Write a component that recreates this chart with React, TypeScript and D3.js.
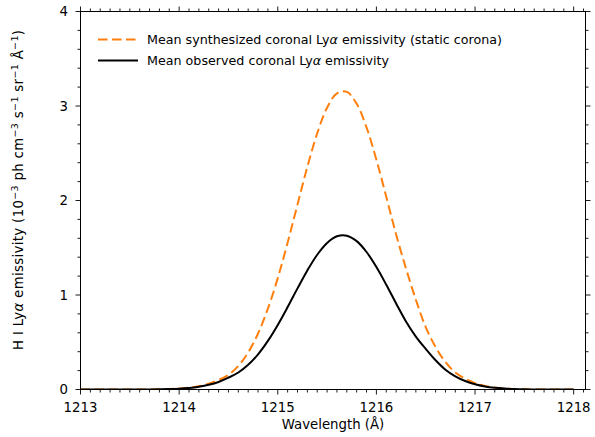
import React from "react";
import * as d3 from "d3";

const wavelengths = [
  1213.0, 1213.1, 1213.2, 1213.3, 1213.4, 1213.5, 1213.6, 1213.7, 1213.8, 1213.9,
  1214.0, 1214.1, 1214.2, 1214.3, 1214.4, 1214.5, 1214.6, 1214.7, 1214.8, 1214.9,
  1215.0, 1215.1, 1215.2, 1215.3, 1215.4, 1215.5, 1215.6, 1215.7, 1215.8, 1215.9,
  1216.0, 1216.1, 1216.2, 1216.3, 1216.4, 1216.5, 1216.6, 1216.7, 1216.8, 1216.9,
  1217.0, 1217.1, 1217.2, 1217.3, 1217.4, 1217.5, 1217.6, 1217.7, 1217.8, 1217.9,
  1218.0,
];

const synthesized = [
  0, 0, 0, 0, 0, 0, 0.0005, 0.001, 0.002, 0.005,
  0.01, 0.02, 0.035, 0.06, 0.1, 0.155, 0.25, 0.392, 0.593, 0.855,
  1.179, 1.554, 1.957, 2.357, 2.711, 2.982, 3.134, 3.149, 3.023, 2.774,
  2.432, 2.039, 1.64, 1.28, 0.95, 0.66, 0.45, 0.29, 0.18, 0.115,
  0.068, 0.038, 0.02, 0.01, 0.005, 0.002, 0.001, 0.0005, 0, 0,
  0,
];

const observed = [
  0, 0, 0, 0, 0, 0, 0, 0.001, 0.002, 0.004,
  0.009, 0.017, 0.03, 0.05, 0.08, 0.125, 0.18, 0.262, 0.372, 0.514,
  0.683, 0.872, 1.07, 1.26, 1.426, 1.551, 1.621, 1.628, 1.57, 1.455,
  1.296, 1.109, 0.911, 0.72, 0.56, 0.43, 0.31, 0.21, 0.14, 0.09,
  0.055, 0.032, 0.018, 0.01, 0.005, 0.002, 0.001, 0, 0, 0,
  0,
];

const xTicks = [1213, 1214, 1215, 1216, 1217, 1218];
const yTicks = [0, 1, 2, 3, 4];

const W = 595;
const H = 437;
const left = 80.5;
const right = 585.5;
const top = 11.5;
const bottom = 389.5;
const FONT = "DejaVu Sans, sans-serif";

export default function App() {
  const x = d3.scaleLinear().domain([1213, 1218.12]).range([left, right]);
  const y = d3.scaleLinear().domain([0, 4]).range([bottom, top]);

  const line = d3
    .line<number>()
    .x((_, i) => x(wavelengths[i]))
    .y((d) => y(d))
    .curve(d3.curveCatmullRom.alpha(0.5));

  const xMinor = d3.range(1213, 1218.13, 0.1).filter((v) => Math.abs(v - Math.round(v)) > 0.01);
  const yMinor = d3.range(0, 4.01, 0.2).filter((v) => Math.abs(v - Math.round(v)) > 0.01);

  const majLen = 5;
  const minLen = 3;
  const sup = 9.5;

  return (
    <svg width={W} height={H} style={{ display: "block", position: "absolute", left: 0, top: 0 }} fontFamily={FONT}>
      <rect x={0} y={0} width={W} height={H} fill="white" />
      <defs>
        <clipPath id="plot">
          <rect x={left} y={top} width={right - left} height={bottom - top} />
        </clipPath>
      </defs>
      <g clipPath="url(#plot)">
        <path d={line(synthesized) || ""} fill="none" stroke="#ff7f0e" strokeWidth={2} strokeDasharray="9.5,4.5" />
        <path d={line(observed) || ""} fill="none" stroke="#000" strokeWidth={2} />
      </g>
      <rect x={left} y={top} width={right - left} height={bottom - top} fill="none" stroke="#000" strokeWidth={1} />
      <g stroke="#000" strokeWidth={0.9}>
        {xTicks.map((t) => (
          <g key={"xt" + t}>
            <line x1={x(t)} x2={x(t)} y1={bottom} y2={bottom + majLen} />
            <line x1={x(t)} x2={x(t)} y1={top} y2={top - majLen} />
          </g>
        ))}
        {xMinor.map((t, i) => (
          <g key={"xm" + i}>
            <line x1={x(t)} x2={x(t)} y1={bottom} y2={bottom + minLen} />
            <line x1={x(t)} x2={x(t)} y1={top} y2={top - minLen} />
          </g>
        ))}
        {yTicks.map((t) => (
          <g key={"yt" + t}>
            <line x1={left} x2={left - majLen} y1={y(t)} y2={y(t)} />
            <line x1={right} x2={right + majLen} y1={y(t)} y2={y(t)} />
          </g>
        ))}
        {yMinor.map((t, i) => (
          <g key={"ym" + i}>
            <line x1={left} x2={left - minLen} y1={y(t)} y2={y(t)} />
            <line x1={right} x2={right + minLen} y1={y(t)} y2={y(t)} />
          </g>
        ))}
      </g>
      <g fontSize={13.3} fill="#000">
        {xTicks.map((t) => (
          <text key={"xl" + t} x={x(t)} y={411.5} textAnchor="middle">
            {t}
          </text>
        ))}
        {yTicks.map((t) => (
          <text key={"yl" + t} x={68} y={y(t) + 4.8} textAnchor="end">
            {t}
          </text>
        ))}
        <text x={(left + right) / 2} y={429} textAnchor="middle">
          Wavelength (Å)
        </text>
        <text
          transform="translate(22.5, 350) rotate(-90)"
          textAnchor="start"
          textLength={320}
          lengthAdjust="spacing"
        >
          H I Ly<tspan fontStyle="italic">{"\u03b1"}</tspan> emissivity (10
          <tspan dy={-5} fontSize={sup}>{"\u22123"}</tspan>
          <tspan dy={5}> ph cm</tspan>
          <tspan dy={-5} fontSize={sup}>{"\u22123"}</tspan>
          <tspan dy={5}> s</tspan>
          <tspan dy={-5} fontSize={sup}>{"\u22121"}</tspan>
          <tspan dy={5}> sr</tspan>
          <tspan dy={-5} fontSize={sup}>{"\u22121"}</tspan>
          <tspan dy={5}> Å</tspan>
          <tspan dy={-5} fontSize={sup}>{"\u22121"}</tspan>
          <tspan dy={5}>)</tspan>
        </text>
      </g>
      <g fontSize={12.7} fill="#000">
        <line x1={98} x2={138} y1={39.5} y2={39.5} stroke="#ff7f0e" strokeWidth={2} strokeDasharray="9.5,4.5" />
        <line x1={98} x2={138} y1={60.5} y2={60.5} stroke="#000" strokeWidth={2} />
        <text x={147} y={44}>
          Mean synthesized coronal Ly<tspan fontStyle="italic">{"\u03b1"}</tspan> emissivity (static corona)
        </text>
        <text x={147} y={65}>
          Mean observed coronal Ly<tspan fontStyle="italic">{"\u03b1"}</tspan> emissivity
        </text>
      </g>
    </svg>
  );
}
